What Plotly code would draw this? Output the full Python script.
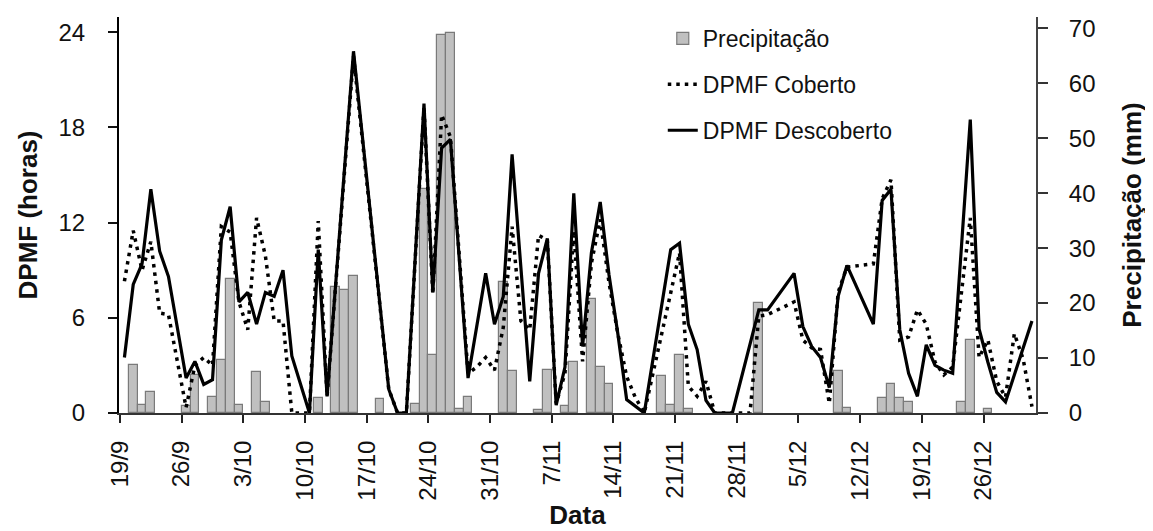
import pandas as pd
import plotly.graph_objects as go

ANO = 2010

# DPMF Descoberto (horas) - vertices
desc_datas = ["19/9","20/9","21/9","22/9","23/9","24/9","26/9","27/9","28/9","29/9","30/9",
              "1/10","2/10","3/10","4/10","5/10","6/10","7/10","8/10","10/10","11/10","12/10",
              "15/10","19/10","20/10","21/10","23/10","24/10","25/10","26/10","28/10","30/10",
              "31/10","1/11","2/11","4/11","5/11","6/11","7/11","8/11","9/11","10/11","11/11",
              "12/11","13/11","14/11","15/11","17/11","20/11","21/11","22/11","23/11","24/11",
              "25/11","27/11","30/11","1/12","4/12","5/12","6/12","7/12","8/12","9/12","10/12",
              "13/12","14/12","15/12","16/12","17/12","18/12","19/12","20/12","21/12","22/12",
              "24/12","25/12","26/12","27/12","28/12","31/12"]
desc_vals = [3.5, 8.1, 9.4, 14.1, 10.2, 8.6, 2.2, 3.25, 1.8, 2.1, 10.9,
             13.0, 7.0, 7.6, 5.6, 7.6, 7.35, 9.0, 3.6, 0.0, 10.3, 1.05,
             22.8, 1.5, 0.0, 0.0, 19.5, 7.6, 16.7, 17.25, 2.2, 8.8,
             5.6, 7.35, 16.3, 2.0, 8.8, 11.0, 0.5, 2.9, 13.85, 4.2, 10.1,
             13.3, 8.7, 5.0, 0.85, 0.0, 10.3, 10.7, 5.6, 4.0, 0.8,
             0.0, 0.0, 6.5, 6.5, 8.8, 5.45, 4.2, 3.5, 1.6, 7.35, 9.3,
             5.6, 13.4, 14.1, 5.25, 2.5, 1.05, 4.3, 3.0, 2.7, 2.5,
             18.5, 5.3, 3.2, 1.3, 0.7, 5.8]

# DPMF Coberto (horas)
cob_datas = ["19/9","20/9","21/9","22/9","23/9","24/9","26/9","27/9","28/9","29/9","30/9",
             "1/10","2/10","3/10","4/10","5/10","6/10","7/10","8/10","10/10","11/10","12/10",
             "15/10","19/10","20/10","21/10","23/10","24/10","25/10","26/10","28/10","29/10",
             "30/10","31/10","1/11","2/11","3/11","4/11","5/11","6/11","7/11","8/11","9/11",
             "10/11","11/11","12/11","13/11","14/11","15/11","16/11","17/11","21/11","22/11",
             "23/11","24/11","25/11","29/11","30/11","1/12","4/12","5/12","6/12","7/12","8/12",
             "9/12","10/12","13/12","14/12","15/12","16/12","17/12","18/12","19/12","20/12",
             "21/12","22/12","24/12","25/12","26/12","27/12","28/12","29/12","30/12","31/12"]
cob_vals = [8.3, 11.5, 9.0, 10.8, 6.3, 6.2, 0.35, 3.0, 3.5, 3.0, 11.75,
            11.4, 7.0, 5.25, 12.3, 9.9, 5.8, 5.8, 0.0, 0.0, 12.1, 1.05,
            22.5, 1.5, 0.0, 0.0, 19.3, 7.5, 18.8, 17.4, 2.5, 2.9,
            3.5, 2.7, 5.4, 11.75, 5.8, 5.25, 11.2, 10.9, 0.6, 2.5, 11.5,
            3.25, 9.45, 12.2, 8.2, 5.0, 2.3, 0.96, 0.0, 10.1, 1.7,
            1.05, 2.0, 0.0, 0.0, 6.1, 6.2, 7.0, 4.6, 4.1, 4.0, 0.6,
            7.6, 9.2, 9.4, 13.5, 14.7, 4.6, 4.8, 6.5, 5.6, 3.2,
            2.4, 2.9, 12.3, 3.5, 4.6, 2.0, 1.0, 5.0, 3.4, 0.4]

# Precipitacao (mm)
prec_datas = ["20/9","21/9","22/9","26/9","27/9","29/9","30/9","1/10","2/10","4/10","5/10",
              "11/10","13/10","14/10","15/10","18/10","22/10","23/10","24/10","25/10","26/10",
              "27/10","28/10","1/11","2/11","5/11","6/11","8/11","9/11","11/11","12/11","13/11",
              "19/11","20/11","21/11","22/11","30/11","9/12","10/12","14/12","15/12","16/12",
              "17/12","23/12","24/12","26/12"]
prec_vals = [8.65, 1.4, 3.8, 1.2, 7.0, 3.0, 9.6, 24.4, 1.5, 7.4, 2.0,
             2.7, 22.9, 22.3, 25.0, 2.5, 1.6, 40.7, 10.5, 68.8, 69.1,
             0.7, 2.85, 23.9, 7.6, 0.5, 7.9, 1.2, 9.3, 20.8, 8.3, 5.3,
             6.8, 1.5, 10.5, 0.7, 20.0, 7.6, 0.9, 2.7, 5.3, 2.7,
             2.0, 2.0, 13.3, 0.7]

tick_labels = ["19/9","26/9","3/10","10/10","17/10","24/10","31/10","7/11","14/11",
               "21/11","28/11","5/12","12/12","19/12","26/12"]


def to_dates(lst):
    return pd.to_datetime([s + "/" + str(ANO) for s in lst], format="%d/%m/%Y")


DAY_MS = 86400000
FONT = "Liberation Sans, Arial, sans-serif"

fig = go.Figure()
fig.add_trace(go.Bar(
    x=to_dates(prec_datas), y=prec_vals, name="Precipitação",
    xperiod=DAY_MS, xperiodalignment="middle", width=DAY_MS,
    marker=dict(color="#c0c0c0", line=dict(color="#7a7a7a", width=1.2)),
    yaxis="y", legendgroup="a"))
fig.add_trace(go.Scatter(
    x=to_dates(cob_datas), y=cob_vals, name="DPMF Coberto", mode="lines",
    xperiod=DAY_MS, xperiodalignment="middle",
    line=dict(color="black", width=3.5, dash="3.5px,5px"),
    yaxis="y2", legendgroup="b"))
fig.add_trace(go.Scatter(
    x=to_dates(desc_datas), y=desc_vals, name="DPMF Descoberto", mode="lines",
    xperiod=DAY_MS, xperiodalignment="middle",
    line=dict(color="black", width=3.2),
    yaxis="y2", legendgroup="c"))

# page body has an 8px default margin, so the figure is 8px smaller
fig.update_layout(
    width=1145, height=523, autosize=False,
    margin=dict(l=111, r=117, t=9, b=118),
    paper_bgcolor="white", plot_bgcolor="white",
    font=dict(family=FONT, size=24, color="#111"),
    bargap=0,
    showlegend=True,
    legend=dict(x=0.593, y=1.0, xanchor="left", yanchor="top",
                font=dict(size=23, color="#111"), tracegroupgap=13,
                bgcolor="rgba(0,0,0,0)", traceorder="grouped"),
    xaxis=dict(
        type="date", automargin=False,
        range=["%d-09-18 21:15" % ANO, "%d-12-31 23:00" % ANO],
        tickvals=to_dates(tick_labels), ticktext=tick_labels,
        tickangle=-90, ticks="outside", ticklen=8, tickwidth=1.5, tickcolor="#222",
        showline=True, linecolor="#333", linewidth=2, showgrid=False, zeroline=False,
        tickfont=dict(size=24), ticklabelstandoff=8,
        title=dict(text="<b>Data</b>", font=dict(size=26), standoff=6),
    ),
    yaxis=dict(
        side="right", range=[0, 72.05], tickvals=list(range(0, 71, 10)), automargin=False,
        ticks="outside", ticklen=10, tickwidth=1.5, tickcolor="#333",
        showline=True, linecolor="#444", linewidth=2, showgrid=False, zeroline=False,
        tickfont=dict(size=24), ticklabelstandoff=16,
        title=dict(text="<b>Precipitação (mm)</b>", font=dict(size=26), standoff=28),
    ),
    yaxis2=dict(
        overlaying="y", side="left", range=[0, 24.96], tickvals=[0, 6, 12, 18, 24],
        automargin=False,
        ticks="outside", ticklen=9, tickwidth=1.5, tickcolor="#111",
        showline=True, linecolor="black", linewidth=2, showgrid=False, zeroline=False,
        tickfont=dict(size=24), ticklabelstandoff=18,
        title=dict(text="<b>DPMF (horas)</b>", font=dict(size=26), standoff=13),
    ),
)

fig.write_html("out.html")
